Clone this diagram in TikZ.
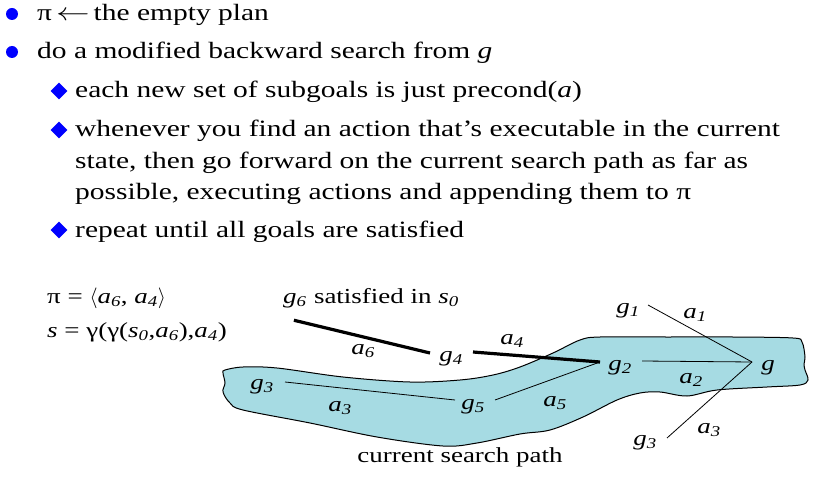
\documentclass[tikz,border=0pt]{standalone}
\usepackage{fontspec}
\setmainfont{Liberation Serif}[FakeStretch=1.26]
\usepackage{tikz}
\usetikzlibrary{shapes.geometric,calc}

\definecolor{pathfill}{RGB}{166,219,227}
\newcommand{\lb}[2]{\textit{#1}\textsubscript{\textit{#2}}}

\begin{document}
\begin{tikzpicture}[x=1pt,y=-1pt,
        line/.style={draw,line width=0.8pt},
        plan/.style={draw,line width=3.2pt},
        item/.style={anchor=base west,inner sep=0pt,font=\fontsize{23.4}{32}\selectfont},
        lbl/.style={inner sep=0pt,font=\fontsize{21.4}{26}\selectfont},
        dot/.style={circle,fill=blue,inner sep=0pt,minimum size=12pt},
        gem/.style={diamond,fill=blue,inner sep=0pt,minimum width=17pt,minimum height=17pt}]
        \useasboundingbox (0,0) rectangle (816,481);

        % the bullet list
        \node [dot] (b1) at (12,14) {};
        \node [item] (t1) at (37,21) {π\hspace{4pt}\scalebox{1.35}[1]{$\leftarrow$}\hspace{4pt}the empty plan};
        \node [dot] (b2) at (12,52) {};
        \node [item] (t2) at (37,59) {do a modified backward search from \textit{g}};
        \node [gem] (d1) at (59,91) {};
        \node [item] (t3) at (75,98) {each new set of subgoals is just precond(\textit{a})};
        \node [gem] (d2) at (59,130) {};
        \node [item] (t4) at (75,137) {whenever you find an action that’s executable in the current};
        \node [item] (t5) at (75,169) {state, then go forward on the current search path as far as};
        \node [item] (t6) at (75,200) {possible, executing actions and appending them to π};
        \node [gem] (d3) at (59,230) {};
        \node [item] (t7) at (75,237) {repeat until all goals are satisfied};

        % current search path
        \draw [fill=pathfill,line width=1pt] plot [smooth cycle,tension=0.55] coordinates {
                (225,370) (243,367) (277,368) (343,377) (410,382) (460,380) (493,375)
                (520,367) (553,353) (580,340) (600,337) (667,337) (733,337) (793,338)
                (802,342) (805,357) (804,364) (805,370) (808,380) (800,385) (767,387)
                (717,390) (687,396) (660,392) (640,393) (617,400) (583,417) (550,430)
                (520,434) (477,443) (443,446) (377,437) (310,423) (243,410) (230,403)
                (223,392) (225,383) (223,373)};

        \node [lbl,anchor=base west] (plan) at (47,303) {π = $\langle$\lb{a}{6}, \lb{a}{4}$\rangle$};
        \node [lbl,anchor=base west] (state) at (47,337) {\textit{s} = γ(γ(\lb{s}{0},\lb{a}{6}),\lb{a}{4})};

        \node [lbl] (g) at (768,368) {\textit{g}};
        \node [lbl] (g1) at (628,311) {\lb{g}{1}};
        \node [lbl] (g2) at (620,368) {\lb{g}{2}};
        \node [lbl] (g3) at (645,443) {\lb{g}{3}};
        \node [lbl] (g3b) at (262,387) {\lb{g}{3}};
        \node [lbl] (g4) at (451,359) {\lb{g}{4}};
        \node [lbl] (g5) at (473,407) {\lb{g}{5}};
        \node [lbl,anchor=base west] (g6) at (283,303) {\lb{g}{6}};
        \node [lbl,anchor=base west] (sat) at ([xshift=7pt]g6.base east) {satisfied in \lb{s}{0}};

        \node [lbl] (a1) at (695,315) {\lb{a}{1}};
        \node [lbl] (a2) at (691,380) {\lb{a}{2}};
        \node [lbl] (a3) at (709,430) {\lb{a}{3}};
        \node [lbl] (a3b) at (340,408) {\lb{a}{3}};
        \node [lbl] (a4) at (512,341) {\lb{a}{4}};
        \node [lbl] (a5) at (555,403) {\lb{a}{5}};
        \node [lbl] (a6) at (363,351) {\lb{a}{6}};
        \node [lbl] (cap) at (460,457) {current search path};

        \coordinate (m) at ($(g)+(-16,-6)$);
        \draw [line] ($(g1)+(20,-6)$) -- (m);
        \draw [line] ($(g2)+(22,-7)$) -- (m);
        \draw [line] ($(g3)+(22,-5)$) -- (m);
        \draw [line] ($(g5)+(22,-7)$) -- ($(g2)+(-20,-6)$);
        \draw [line] ($(g3b)+(23,-5)$) -- ($(g5)+(-18,-7)$);
        \draw [plan] ($(g6)+(-1,20)$) -- ($(g4)+(-21,-6)$);
        \draw [plan] ($(g4)+(22,-7)$) -- ($(g2)+(-20,-6)$);
\end{tikzpicture}
\end{document}
